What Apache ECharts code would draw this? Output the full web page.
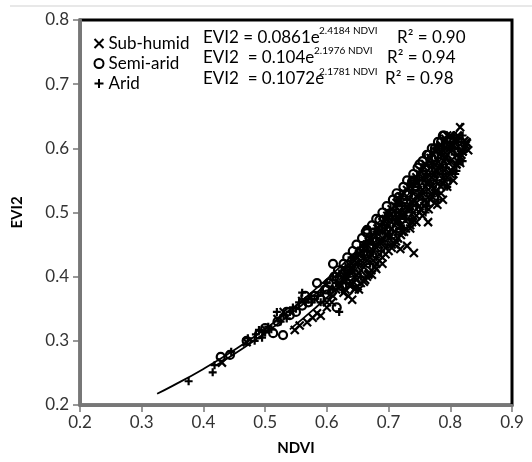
<!DOCTYPE html>
<html>
<head>
<meta charset="utf-8">
<script src="https://cdn.jsdelivr.net/npm/echarts@6/dist/echarts.min.js"></script>
<style>
  html, body { margin: 0; padding: 0; background: #fff; }
  #chart { width: 532px; height: 462px; }
</style>
</head>
<body>
<div id="chart"></div>
<script>
// scatter points [NDVI, EVI2]
const subHumid = [
  [0.43, 0.266], [0.47, 0.298], [0.5, 0.318], [0.52, 0.334], [0.548, 0.317], [0.556, 0.324],
  [0.568, 0.329], [0.577, 0.336], [0.584, 0.343], [0.59, 0.339], [0.6, 0.352], [0.608, 0.36],
  [0.627, 0.375], [0.635, 0.37], [0.641, 0.364], [0.646, 0.382], [0.652, 0.38], [0.66, 0.392],
  [0.667, 0.403], [0.673, 0.403], [0.68, 0.412], [0.69, 0.42],
  [0.741, 0.437], [0.719, 0.443], [0.73, 0.448],
  [0.62, 0.39], [0.63, 0.4], [0.64, 0.41], [0.65, 0.42], [0.66, 0.43], [0.67, 0.44], [0.675, 0.425],
  [0.685, 0.435], [0.695, 0.445], [0.7, 0.46], [0.705, 0.45], [0.71, 0.47], [0.715, 0.46],
  [0.72, 0.48], [0.725, 0.47], [0.73, 0.49], [0.735, 0.475], [0.74, 0.5], [0.745, 0.485],
  [0.75, 0.51], [0.755, 0.495], [0.76, 0.52], [0.764, 0.485], [0.765, 0.505], [0.77, 0.53],
  [0.775, 0.515], [0.779, 0.512], [0.78, 0.545], [0.785, 0.53], [0.788, 0.52], [0.79, 0.555],
  [0.795, 0.54], [0.8, 0.565], [0.805, 0.55], [0.81, 0.575], [0.816, 0.577], [0.812, 0.59],
  [0.82, 0.595], [0.827, 0.608], [0.829, 0.597], [0.816, 0.633], [0.808, 0.615], [0.8, 0.605],
  [0.795, 0.59], [0.79, 0.58], [0.785, 0.57], [0.78, 0.56], [0.775, 0.55], [0.77, 0.56],
  [0.765, 0.545], [0.76, 0.54], [0.755, 0.53], [0.75, 0.525], [0.745, 0.515], [0.74, 0.52],
  [0.735, 0.505], [0.73, 0.51], [0.725, 0.495], [0.72, 0.5], [0.715, 0.485], [0.71, 0.49],
  [0.705, 0.475], [0.7, 0.48], [0.695, 0.465], [0.69, 0.47], [0.685, 0.455], [0.68, 0.45],
  [0.79, 0.6], [0.8, 0.62], [0.785, 0.595], [0.823, 0.612], [0.81, 0.6], [0.775, 0.575],
  [0.79, 0.565], [0.8, 0.58], [0.77, 0.54], [0.76, 0.555],
  [0.615, 0.38], [0.63, 0.38], [0.645, 0.38], [0.62, 0.39], [0.64, 0.39], [0.655, 0.39],
  [0.625, 0.4], [0.645, 0.4], [0.665, 0.4], [0.635, 0.41], [0.655, 0.41], [0.672, 0.41],
  [0.64, 0.42], [0.66, 0.42], [0.68, 0.42], [0.65, 0.43], [0.67, 0.43], [0.69, 0.43],
  [0.655, 0.44], [0.675, 0.44], [0.7, 0.44], [0.665, 0.45], [0.685, 0.45], [0.71, 0.45],
  [0.67, 0.46], [0.69, 0.46], [0.715, 0.46], [0.68, 0.47], [0.7, 0.47], [0.722, 0.47],
  [0.685, 0.48], [0.71, 0.48], [0.735, 0.48], [0.695, 0.49], [0.715, 0.49], [0.74, 0.49],
  [0.7, 0.5], [0.725, 0.5], [0.75, 0.5], [0.71, 0.51], [0.735, 0.51], [0.758, 0.51],
  [0.718, 0.52], [0.74, 0.52], [0.768, 0.52], [0.725, 0.53], [0.75, 0.53], [0.775, 0.53],
  [0.735, 0.54], [0.76, 0.54], [0.785, 0.54], [0.742, 0.55], [0.765, 0.55], [0.79, 0.55],
  [0.75, 0.56], [0.775, 0.56], [0.8, 0.56], [0.758, 0.57], [0.78, 0.57], [0.805, 0.57],
  [0.765, 0.58], [0.79, 0.58], [0.812, 0.58], [0.772, 0.59], [0.795, 0.59], [0.818, 0.59],
  [0.78, 0.6], [0.8, 0.6], [0.822, 0.6], [0.79, 0.61], [0.81, 0.61], [0.826, 0.61],
  [0.795, 0.62], [0.812, 0.62], [0.6, 0.36], [0.61, 0.37], [0.53, 0.345], [0.56, 0.362],
  [0.622, 0.385], [0.638, 0.385], [0.65, 0.385], [0.628, 0.395], [0.648, 0.395], [0.662, 0.395],
  [0.632, 0.405], [0.652, 0.405], [0.668, 0.405], [0.64, 0.415], [0.66, 0.415], [0.678, 0.415],
  [0.645, 0.425], [0.665, 0.425], [0.685, 0.425], [0.652, 0.435], [0.672, 0.435], [0.695, 0.435],
  [0.66, 0.445], [0.68, 0.445], [0.705, 0.445], [0.668, 0.455], [0.69, 0.455], [0.712, 0.455],
  [0.675, 0.465], [0.697, 0.465], [0.72, 0.465], [0.682, 0.475], [0.705, 0.475], [0.728, 0.475],
  [0.69, 0.485], [0.712, 0.485], [0.738, 0.485], [0.698, 0.495], [0.72, 0.495], [0.745, 0.495],
  [0.705, 0.505], [0.73, 0.505], [0.752, 0.505], [0.713, 0.515], [0.738, 0.515], [0.762, 0.515],
  [0.72, 0.525], [0.745, 0.525], [0.77, 0.525], [0.73, 0.535], [0.755, 0.535], [0.778, 0.535],
  [0.738, 0.545], [0.762, 0.545], [0.788, 0.545], [0.745, 0.555], [0.77, 0.555], [0.795, 0.555],
  [0.752, 0.565], [0.778, 0.565], [0.802, 0.565], [0.76, 0.575], [0.785, 0.575], [0.81, 0.575],
  [0.768, 0.585], [0.792, 0.585], [0.815, 0.585], [0.776, 0.595], [0.8, 0.595], [0.82, 0.595],
  [0.785, 0.605], [0.805, 0.605], [0.825, 0.605], [0.792, 0.615], [0.81, 0.615]
];
const semiArid = [
  [0.428, 0.275], [0.443, 0.278], [0.513, 0.312], [0.529, 0.309], [0.5, 0.32], [0.54, 0.34],
  [0.56, 0.355], [0.584, 0.39], [0.6, 0.372], [0.608, 0.376], [0.61, 0.42], [0.616, 0.352],
  [0.62, 0.395], [0.635, 0.41], [0.645, 0.425], [0.655, 0.44], [0.665, 0.468], [0.665, 0.473],
  [0.675, 0.46], [0.685, 0.488], [0.69, 0.475], [0.7, 0.495], [0.705, 0.5], [0.716, 0.524],
  [0.72, 0.51], [0.73, 0.53], [0.738, 0.548], [0.745, 0.54], [0.755, 0.56], [0.76, 0.57],
  [0.775, 0.6], [0.77, 0.585], [0.785, 0.61], [0.79, 0.62], [0.8, 0.61], [0.74, 0.55],
  [0.75, 0.575], [0.765, 0.59], [0.78, 0.6], [0.72, 0.49], [0.7, 0.47], [0.68, 0.455],
  [0.66, 0.445], [0.64, 0.4], [0.625, 0.385], [0.59, 0.365], [0.57, 0.36], [0.55, 0.345],
  [0.52, 0.33], [0.49, 0.31], [0.47, 0.3], [0.6, 0.38],
  [0.597, 0.38], [0.603, 0.39], [0.612, 0.4], [0.618, 0.41], [0.627, 0.42], [0.633, 0.43],
  [0.642, 0.44], [0.648, 0.45], [0.657, 0.46], [0.663, 0.47], [0.673, 0.48], [0.68, 0.49],
  [0.69, 0.5], [0.697, 0.51], [0.707, 0.52], [0.713, 0.53], [0.724, 0.54], [0.73, 0.55],
  [0.74, 0.56], [0.747, 0.57], [0.755, 0.58], [0.762, 0.59], [0.77, 0.6], [0.78, 0.61],
  [0.788, 0.62], [0.535, 0.345], [0.565, 0.37], [0.58, 0.37]
];
const arid = [
  [0.376, 0.237], [0.415, 0.251], [0.418, 0.262], [0.445, 0.283], [0.472, 0.304], [0.483, 0.3],
  [0.485, 0.31], [0.49, 0.317], [0.495, 0.305], [0.5, 0.313], [0.505, 0.322], [0.51, 0.318],
  [0.519, 0.345], [0.525, 0.33], [0.535, 0.335], [0.54, 0.345], [0.55, 0.35], [0.56, 0.375],
  [0.565, 0.36], [0.575, 0.37], [0.58, 0.365], [0.59, 0.375], [0.62, 0.345], [0.6, 0.39],
  [0.61, 0.4], [0.62, 0.405], [0.63, 0.415], [0.64, 0.43], [0.65, 0.435], [0.66, 0.45],
  [0.67, 0.455], [0.68, 0.47], [0.69, 0.48], [0.7, 0.49], [0.71, 0.5], [0.72, 0.515],
  [0.73, 0.52], [0.74, 0.535], [0.75, 0.55], [0.76, 0.56], [0.77, 0.575], [0.78, 0.585],
  [0.79, 0.6], [0.8, 0.6], [0.81, 0.61], [0.82, 0.62], [0.7, 0.465], [0.72, 0.475],
  [0.74, 0.49], [0.76, 0.51], [0.78, 0.53], [0.8, 0.55], [0.81, 0.565],
  [0.61, 0.38], [0.625, 0.38], [0.615, 0.39], [0.632, 0.39], [0.635, 0.4], [0.655, 0.4],
  [0.628, 0.41], [0.645, 0.41], [0.65, 0.42], [0.67, 0.42], [0.643, 0.43], [0.66, 0.43],
  [0.68, 0.43], [0.665, 0.44], [0.688, 0.44], [0.675, 0.45], [0.698, 0.45], [0.68, 0.46],
  [0.705, 0.46], [0.69, 0.47], [0.712, 0.47], [0.697, 0.48], [0.72, 0.48], [0.705, 0.49],
  [0.728, 0.49], [0.712, 0.5], [0.738, 0.5], [0.76, 0.5], [0.722, 0.51], [0.745, 0.51],
  [0.73, 0.52], [0.755, 0.52], [0.78, 0.52], [0.738, 0.53], [0.762, 0.53], [0.748, 0.54],
  [0.772, 0.54], [0.795, 0.54], [0.755, 0.55], [0.778, 0.55], [0.762, 0.56], [0.788, 0.56],
  [0.808, 0.56], [0.77, 0.57], [0.793, 0.57], [0.778, 0.58], [0.8, 0.58], [0.82, 0.58],
  [0.785, 0.59], [0.807, 0.59], [0.79, 0.6], [0.812, 0.6], [0.8, 0.61], [0.818, 0.61],
  [0.805, 0.62], [0.575, 0.36], [0.59, 0.36], [0.585, 0.37], [0.53, 0.34], [0.545, 0.352],
  [0.555, 0.36], [0.57, 0.365]
];

// trendline points (values of the fitted curves shown in the legend)
const subHumidFit = [[0.54, 0.3178], [0.58, 0.3501], [0.62, 0.3857], [0.66, 0.4248], [0.70, 0.4680], [0.74, 0.5155], [0.78, 0.5679], [0.82, 0.6255]];
const semiAridFit = [[0.42, 0.2617], [0.45, 0.2796], [0.50, 0.3121], [0.55, 0.3483], [0.60, 0.3888], [0.65, 0.4339], [0.70, 0.4843], [0.75, 0.5406], [0.80, 0.6033]];
const aridFit = [[0.325, 0.2176], [0.35, 0.2298], [0.40, 0.2562], [0.45, 0.2857], [0.50, 0.3185], [0.55, 0.3552], [0.60, 0.3961], [0.65, 0.4417], [0.70, 0.4925], [0.75, 0.5491], [0.80, 0.6123], [0.82, 0.6395]];

const names = ['Sub-humid', 'Semi-arid', 'Arid'];
const eqBase = ['EVI2 = 0.0861e', 'EVI2  = 0.104e', 'EVI2  = 0.1072e'];
const eqExp = ['2.4184 NDVI', '2.1976 NDVI', '2.1781 NDVI'];
const r2 = ['R\u00b2 = 0.90', 'R\u00b2 = 0.94', 'R\u00b2 = 0.98'];

const FONT = 'Lato';
const crossPath = 'path://M0,0L10,10M10,0L0,10';
const plusPath = 'path://M5,0L5,10M0,5L10,5';

const chart = echarts.init(document.getElementById('chart'), null, { renderer: 'canvas' });

const rowY = [39, 59, 80];
const expX = [319, 314, 319];
const r2X = [397, 387, 385];
const graphics = [
  { type: 'line', shape: { x1: 10, y1: 6, x2: 532, y2: 6 }, style: { stroke: '#e8e8e8', lineWidth: 2 } }
];
for (let i = 0; i < 3; i++) {
  graphics.push({ type: 'text', left: 203, top: rowY[i] - 10,
    style: { text: eqBase[i], font: '17px ' + FONT, fill: '#000' } });
  graphics.push({ type: 'text', left: expX[i], top: rowY[i] - 13,
    style: { text: eqExp[i], font: '10px ' + FONT, fill: '#000' } });
  graphics.push({ type: 'text', left: r2X[i], top: rowY[i] - 10,
    style: { text: r2[i], font: '17px ' + FONT, fill: '#000' } });
}

// scatter defaults to 0.8 opacity, the markers here are solid black
const markerStyle = { color: 'none', borderColor: '#000', borderWidth: 2.2, opacity: 1 };
const legendStyle = { color: 'none', borderColor: '#000', borderWidth: 2, opacity: 1 };

const option = {
  animation: false,
  textStyle: { fontFamily: FONT },
  grid: { left: 80, right: 20, top: 20, bottom: 57, show: true, borderColor: '#000', borderWidth: 3 },
  legend: {
    orient: 'vertical',
    left: 87,
    top: 30,
    itemWidth: 9,
    itemHeight: 9,
    itemGap: 3,
    textStyle: { fontSize: 17, lineHeight: 17, color: '#000', fontFamily: FONT },
    data: [
      { name: names[0], icon: crossPath, itemStyle: legendStyle },
      { name: names[1], icon: 'circle', itemStyle: legendStyle },
      { name: names[2], icon: plusPath, itemStyle: legendStyle }
    ]
  },
  xAxis: {
    type: 'value',
    min: 0.2,
    max: 0.9,
    interval: 0.1,
    name: 'NDVI',
    nameLocation: 'middle',
    nameGap: 36,
    nameTextStyle: { fontSize: 15, fontWeight: 'bold', color: '#000' },
    axisLine: { onZero: false, lineStyle: { color: '#777', width: 3 } },
    axisTick: { length: 7, lineStyle: { color: '#777', width: 1.5 } },
    axisLabel: { fontSize: 17, color: '#333', margin: 9, formatter: v => v.toFixed(1) },
    splitLine: { show: false }
  },
  yAxis: {
    type: 'value',
    min: 0.2,
    max: 0.8,
    interval: 0.1,
    name: 'EVI2',
    nameLocation: 'middle',
    nameGap: 55,
    nameTextStyle: { fontSize: 15, fontWeight: 'bold', color: '#000' },
    axisLine: { onZero: false, lineStyle: { color: '#777', width: 3 } },
    axisTick: { length: 7, lineStyle: { color: '#777', width: 1.5 } },
    axisLabel: { fontSize: 17, color: '#333', margin: 11, formatter: v => v.toFixed(1) },
    splitLine: { show: false }
  },
  graphic: graphics,
  series: [
    { name: names[0], type: 'scatter', symbol: crossPath, symbolSize: 8, itemStyle: markerStyle, data: subHumid },
    { name: names[1], type: 'scatter', symbol: 'circle', symbolSize: 8, itemStyle: markerStyle, data: semiArid },
    { name: names[2], type: 'scatter', symbol: plusPath, symbolSize: 8, itemStyle: markerStyle, data: arid },
    { type: 'line', smooth: true, showSymbol: false, z: 5, lineStyle: { color: '#000', width: 1.8 }, data: subHumidFit },
    { type: 'line', smooth: true, showSymbol: false, z: 5, lineStyle: { color: '#000', width: 1.8 }, data: semiAridFit },
    { type: 'line', smooth: true, showSymbol: false, z: 5, lineStyle: { color: '#000', width: 1.8 }, data: aridFit }
  ]
};

chart.setOption(option);
</script>
</body>
</html>
